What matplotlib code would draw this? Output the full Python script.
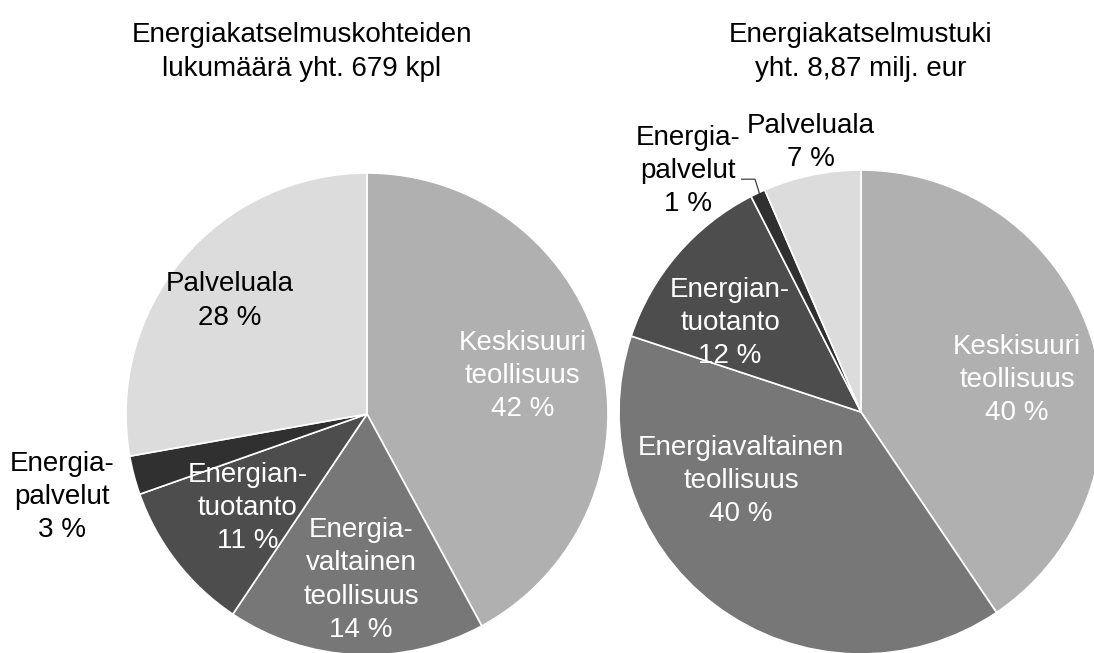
#!/usr/bin/env python3
"""Energy audit pie charts: number of audited sites and subsidy share by sector."""

import matplotlib
matplotlib.use("Agg")
import matplotlib.pyplot as plt

# ---------------------------------------------------------------------------
# Data
# ---------------------------------------------------------------------------

sectors = ["Keskisuuri teollisuus", "Energiavaltainen teollisuus",
           "Energiantuotanto", "Energiapalvelut", "Palveluala"]

# slice shares
count_shares = [42.1, 17.3, 10.2, 2.6, 27.8]
subsidy_shares = [40.5, 39.5, 12.4, 1.0, 6.5]

# label texts as printed in the chart
count_labels = ["Keskisuuri\nteollisuus\n42 %", "Energia-\nvaltainen\nteollisuus\n14 %",
                "Energian-\ntuotanto\n11 %", "Energia-\npalvelut\n3 %", "Palveluala\n28 %"]
subsidy_labels = ["Keskisuuri\nteollisuus\n40 %", "Energiavaltainen\nteollisuus\n40 %",
                  "Energian-\ntuotanto\n12 %", "Energia-\npalvelut\n1 %", "Palveluala\n7 %"]

count_title = "Energiakatselmuskohteiden\nlukumäärä yht. 679 kpl"
subsidy_title = "Energiakatselmustuki\nyht. 8,87 milj. eur"

COLORS = ["#B0B0B0", "#777777", "#4D4D4D", "#303030", "#DCDCDC"]
LABEL_COLORS = ["white", "white", "white", "black", "black"]

plt.rcParams["font.family"] = ["Liberation Sans", "DejaVu Sans"]

W, H = 1094, 653
FS = 20
LS = 1.36


def pie_axes(fig, cx, cy, r):
    """Axes whose box is exactly the pie's bounding square (pixel coords)."""
    return fig.add_axes([(cx - r) / W, (H - cy - r) / H, 2 * r / W, 2 * r / H])


def draw_pie(ax, shares, labels, label_pos):
    ax.pie(shares, colors=COLORS, startangle=90, counterclock=False,
           wedgeprops=dict(edgecolor="white", linewidth=1.2))
    ax.set_xlim(-1, 1)
    ax.set_ylim(-1, 1)
    for text, color, (x, y) in zip(labels, LABEL_COLORS, label_pos):
        ax.text(x, y, text, ha="center", va="center", multialignment="center",
                color=color, fontsize=FS, linespacing=LS)


fig = plt.figure(figsize=(W / 100, H / 100), dpi=100)

# left pie: number of audited sites
ax1 = pie_axes(fig, 367, 414, 241)
draw_pie(ax1, count_shares, count_labels,
         [(0.645, 0.158), (-0.025, -0.689), (-0.496, -0.390),
          (-1.266, -0.344), (-0.568, 0.469)])

# right pie: subsidy
ax2 = pie_axes(fig, 861, 412, 242)
draw_pie(ax2, subsidy_shares, subsidy_labels,
         [(0.645, 0.132), (-0.496, -0.285), (-0.541, 0.368),
          (-0.715, 0.996), (-0.207, 1.112)])
# leader line for the tiny Energiapalvelut slice
ax2.plot([-0.493, -0.438, -0.420], [0.962, 0.962, 0.904],
         color="#404040", linewidth=0.9, clip_on=False)

fig.text(302 / W, 1 - 52 / H, count_title, ha="center", va="center",
         multialignment="center", fontsize=FS, linespacing=LS)
fig.text(861 / W, 1 - 52 / H, subsidy_title, ha="center", va="center",
         multialignment="center", fontsize=FS, linespacing=LS)

fig.savefig("out.png", dpi=100, facecolor="white")
